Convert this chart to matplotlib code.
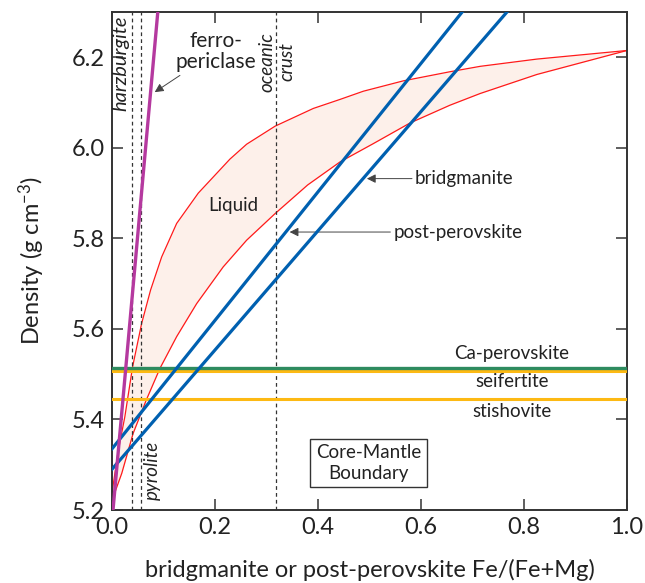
import numpy as np
import matplotlib.pyplot as plt

plt.rcParams['font.family'] = ['Lato', 'DejaVu Sans']
plt.rcParams['mathtext.default'] = 'regular'

# endpoints of the straight mineral density lines (Fe#, density)
fp_x = [0.002, 0.089]
fp_y = [5.20, 6.30]
bdg_x = [0.0, 0.767]
bdg_y = [5.290, 6.30]
ppv_x = [0.0, 0.680]
ppv_y = [5.335, 6.30]

# liquid field
liq_up_x = [0.0, 0.012, 0.025, 0.040, 0.0576, 0.075, 0.0965, 0.1256, 0.1676, 0.229,
            0.2615, 0.317, 0.391, 0.443, 0.488, 0.566, 0.656, 0.715, 0.825, 1.0]
liq_up_y = [5.237, 5.33, 5.406, 5.516, 5.612, 5.686, 5.759, 5.833, 5.900, 5.975,
            6.008, 6.048, 6.087, 6.107, 6.125, 6.148, 6.168, 6.180, 6.196, 6.215]
liq_lo_x = [0.0, 0.0025, 0.019, 0.041, 0.067, 0.0932, 0.1256, 0.1645, 0.216, 0.2615,
            0.317, 0.380, 0.443, 0.507, 0.579, 0.656, 0.715, 0.825, 1.0]
liq_lo_y = [5.237, 5.229, 5.281, 5.369, 5.444, 5.513, 5.583, 5.656, 5.737, 5.796,
            5.855, 5.918, 5.969, 6.009, 6.055, 6.094, 6.120, 6.162, 6.215]

# constant densities
ca_pv = 5.513
seifertite = 5.508
stishovite = 5.445

# bulk compositions
comp_names = ['harzburgite', 'pyrolite', 'oceanic\ncrust']
comp_fe = [0.038, 0.056, 0.318]

fig = plt.figure(figsize=(6.45, 5.83), dpi=100)
ax = fig.add_axes([0.1736, 0.1252, 0.7984, 0.8542])

# liquid field on a common grid of the read x values
xs = np.array(sorted(set(liq_up_x) | set(liq_lo_x)))
up = np.interp(xs, liq_up_x, liq_up_y)
lo = np.interp(xs, liq_lo_x, liq_lo_y)
ax.fill_between(xs, lo, up, color='#fdf0ea', lw=0, zorder=1)
ax.plot(liq_up_x, liq_up_y, color='#ff1a1a', lw=0.9, zorder=2)
ax.plot(liq_lo_x, liq_lo_y, color='#ff1a1a', lw=0.9, zorder=2)

for fe in comp_fe:
    ax.axvline(fe, color='#333333', lw=0.9, ls=(0, (3, 2.5)), zorder=2)

ax.axhline(seifertite, color='#fdb913', lw=2.2, zorder=3)
ax.axhline(ca_pv, color='#2e8b5f', lw=2.4, zorder=3)
ax.axhline(stishovite, color='#fdb913', lw=2.2, zorder=3)

ax.plot(bdg_x, bdg_y, color='#0060b0', lw=2.3, zorder=4)
ax.plot(ppv_x, ppv_y, color='#0060b0', lw=2.3, zorder=4)
ax.plot(fp_x, fp_y, color='#b5399f', lw=2.4, zorder=4)

ax.set_xlim(0, 1.0)
ax.set_ylim(5.2, 6.3)
ax.set_xticks(np.arange(0, 1.01, 0.2))
ax.set_yticks(np.arange(5.2, 6.21, 0.2))
ax.set_xticklabels(['%.1f' % v for v in np.arange(0, 1.01, 0.2)])
ax.set_yticklabels(['%.1f' % v for v in np.arange(5.2, 6.21, 0.2)])
ax.tick_params(direction='in', length=8, width=1.1, labelsize=17,
               top=True, right=True, colors='#333333', labelcolor='#222222', pad=5)
for s in ax.spines.values():
    s.set_color('#333333')
    s.set_linewidth(1.4)

ax.set_xlabel('bridgmanite or post-perovskite Fe/(Fe+Mg)', fontsize=17, color='#222222', labelpad=15)
ax.set_ylabel('Density (g cm$^{-3}$)', fontsize=17, color='#222222', labelpad=18)

txt = dict(fontsize=13.5, color='#222222')
ax.text(0.017, 6.292, comp_names[0], rotation=90, style='italic', ha='center', va='top',
        fontsize=14.5, color='#222222')
ax.text(0.078, 5.222, comp_names[1], rotation=90, style='italic', ha='center', va='bottom', **txt)
ax.text(0.321, 6.19, comp_names[2], rotation=90, style='italic', ha='center', va='center',
        multialignment='center', linespacing=1.2, **txt)
ax.text(0.235, 5.873, 'Liquid', ha='center', va='center', **txt)
ax.text(0.201, 6.213, 'ferro-\npericlase', ha='center', va='center', linespacing=1.1,
        fontsize=15, color='#222222')

arrow = dict(arrowstyle='-|>', color='#444444', lw=0.7, mutation_scale=13, shrinkA=0, shrinkB=0)
ax.annotate('', xy=(0.083, 6.123), xytext=(0.132, 6.16), arrowprops=arrow)
ax.annotate('bridgmanite', xy=(0.495, 5.932), xytext=(0.588, 5.932),
            va='center', ha='left', arrowprops=arrow, **txt)
ax.annotate('post-perovskite', xy=(0.345, 5.814), xytext=(0.546, 5.814),
            va='center', ha='left', arrowprops=arrow, **txt)

ax.text(0.777, 5.546, 'Ca-perovskite', ha='center', va='center', **txt)
ax.text(0.777, 5.483, 'seifertite', ha='center', va='center', **txt)
ax.text(0.777, 5.418, 'stishovite', ha='center', va='center', **txt)
ax.text(0.498, 5.304, 'Core-Mantle\nBoundary', ha='center', va='center', linespacing=1.25,
        bbox=dict(boxstyle='square,pad=0.3', fc='white', ec='#333333', lw=1.0), **txt)

fig.savefig('out.png', dpi=100)
